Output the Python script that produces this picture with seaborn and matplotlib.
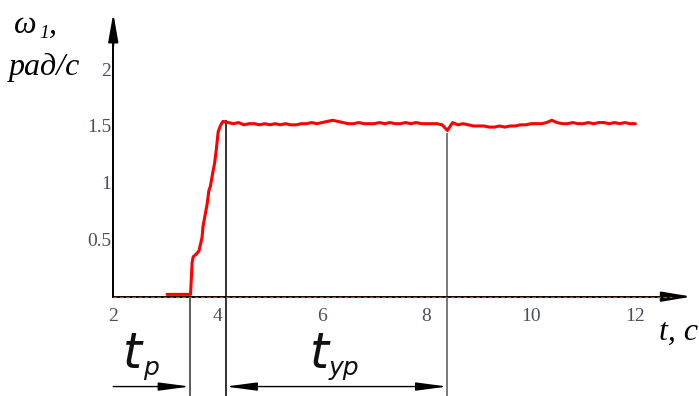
import matplotlib
matplotlib.use("Agg")
import matplotlib.pyplot as plt
import seaborn as sns
import pandas as pd

# ---- data ----
t_rise = [3.03, 3.30, 3.48, 3.51, 3.53, 3.58, 3.64, 3.70, 3.72, 3.76, 3.80, 3.83, 3.86, 3.91, 3.94, 3.97, 4.01, 4.05]
w_rise = [0.02, 0.02, 0.02, 0.30, 0.35, 0.37, 0.40, 0.52, 0.62, 0.72, 0.82, 0.93, 0.97, 1.10, 1.17, 1.28, 1.45, 1.50]

t_flat = [4.10 + 0.1 * i for i in range(80)]
w_flat = [1.54, 1.53, 1.52, 1.53, 1.51, 1.52, 1.52, 1.51, 1.52, 1.51,
          1.52, 1.51, 1.52, 1.51, 1.51, 1.52, 1.52, 1.53, 1.52, 1.53,
          1.54, 1.55, 1.54, 1.53, 1.52, 1.52, 1.53, 1.52, 1.52, 1.52,
          1.53, 1.52, 1.53, 1.52, 1.52, 1.53, 1.52, 1.53, 1.52, 1.52,
          1.52, 1.52, 1.51, 1.46, 1.53, 1.51, 1.52, 1.51, 1.50, 1.50,
          1.50, 1.49, 1.49, 1.50, 1.49, 1.50, 1.50, 1.51, 1.51, 1.52,
          1.52, 1.52, 1.53, 1.55, 1.53, 1.52, 1.52, 1.53, 1.52, 1.52,
          1.53, 1.52, 1.53, 1.53, 1.52, 1.53, 1.52, 1.53, 1.52, 1.52]

x_ticks = [2, 4, 6, 8, 10, 12]
x_tick_labels = ["2", "4", "6", "8", "10", "12"]
y_ticks = [0.5, 1.0, 1.5, 2.0]
y_tick_labels = ["0.5", "1", "1.5", "2"]

t_p_end = 3.47      # end of reaction time
t_start_ur = 4.15   # start of steady interval
t_end_ur = 8.40     # end of steady interval

df = pd.DataFrame({"t": t_rise + t_flat, "w": w_rise + w_flat})

sns.set_style("white")
fig = plt.figure(figsize=(6.99, 3.96), dpi=100)
ax = fig.add_axes([0, 0, 1, 1])
ax.set_xlim(-0.17, 13.22)
ax.set_ylim(-0.873, 2.607)

sns.lineplot(data=df, x="t", y="w", ax=ax, color="#ff0000", linewidth=2.2, sort=False, zorder=5)
ax.set_xlabel("")
ax.set_ylabel("")

# axes as spines through the origin
for s in ["top", "right"]:
    ax.spines[s].set_visible(False)
ax.spines["left"].set_position(("data", 2))
ax.spines["bottom"].set_position(("data", 0))
ax.spines["left"].set_bounds(0, 2.3)
ax.spines["bottom"].set_bounds(2, 12.7)
for s in ["left", "bottom"]:
    ax.spines[s].set_color("black")
    ax.spines[s].set_linewidth(1.4)

# arrow heads
ax.annotate("", xy=(2, 2.49), xytext=(2, 2.2),
            arrowprops=dict(arrowstyle="-|>,head_length=1.7,head_width=0.3", color="black", lw=1.4,
                            shrinkA=0, shrinkB=0))
ax.annotate("", xy=(13.08, 0), xytext=(12.5, 0),
            arrowprops=dict(arrowstyle="-|>,head_length=1.8,head_width=0.3", color="black", lw=1.4,
                            shrinkA=0, shrinkB=0))
# red dashed overlay on the time axis
ax.plot([2, 12.7], [0, 0], color="#d04040", lw=0.9, ls=(0, (3, 2)), zorder=4)

ax.set_xticks(x_ticks)
ax.set_xticklabels(x_tick_labels)
ax.set_yticks(y_ticks)
ax.set_yticklabels(y_tick_labels)
ax.tick_params(axis="both", direction="inout", length=9, width=1.2, color="#222222",
               labelsize=14, labelcolor="#4a4f5c")
ax.tick_params(axis="x", pad=3.5)
ax.tick_params(axis="y", pad=-3)
for lab in ax.get_xticklabels() + ax.get_yticklabels():
    lab.set_fontfamily("Liberation Serif")

# vertical marker lines
ax.vlines(t_p_end, -0.873, 0, color="#333333", lw=1.1)
ax.vlines(t_start_ur, -0.873, 1.55, color="#222222", lw=1.3)
ax.vlines(t_end_ur, -0.873, 1.44, color="#555555", lw=1.1)

# interval arrows
y_arr = -0.79
ax.annotate("", xy=(t_p_end, y_arr), xytext=(2.0, y_arr),
            arrowprops=dict(arrowstyle="-|>,head_length=1.9,head_width=0.25", color="black", lw=1.0,
                            shrinkA=0, shrinkB=0))
ax.annotate("", xy=(t_end_ur, y_arr), xytext=(t_start_ur, y_arr),
            arrowprops=dict(arrowstyle="<|-|>,head_length=1.9,head_width=0.25", color="black", lw=1.0,
                            shrinkA=0, shrinkB=0))

# interval labels
gost = dict(family="DejaVu Sans", style="italic", color="#111111")
ax.text(2.36, -0.50, "t", fontsize=35, ha="center", va="center", **gost)
ax.text(2.72, -0.63, "р", fontsize=18, ha="center", va="center", **gost)
ax.text(5.94, -0.50, "t", fontsize=35, ha="center", va="center", **gost)
ax.text(6.42, -0.63, "ур", fontsize=18, ha="center", va="center", **gost)

# axis titles
serif = dict(family="Liberation Serif", style="italic", color="black")
fig.text(0.02, 0.935, "ω", fontsize=23, ha="left", va="center", **serif)
fig.text(0.056, 0.915, "1", fontsize=14, ha="left", va="center", **serif)
fig.text(0.07, 0.935, ",", fontsize=23, ha="left", va="center", **serif)
fig.text(0.013, 0.83, "рад/с", fontsize=23, ha="left", va="center", **serif)
fig.text(0.943, 0.16, "t, c", fontsize=23, ha="left", va="center", **serif)

fig.savefig("out.png", dpi=100)
